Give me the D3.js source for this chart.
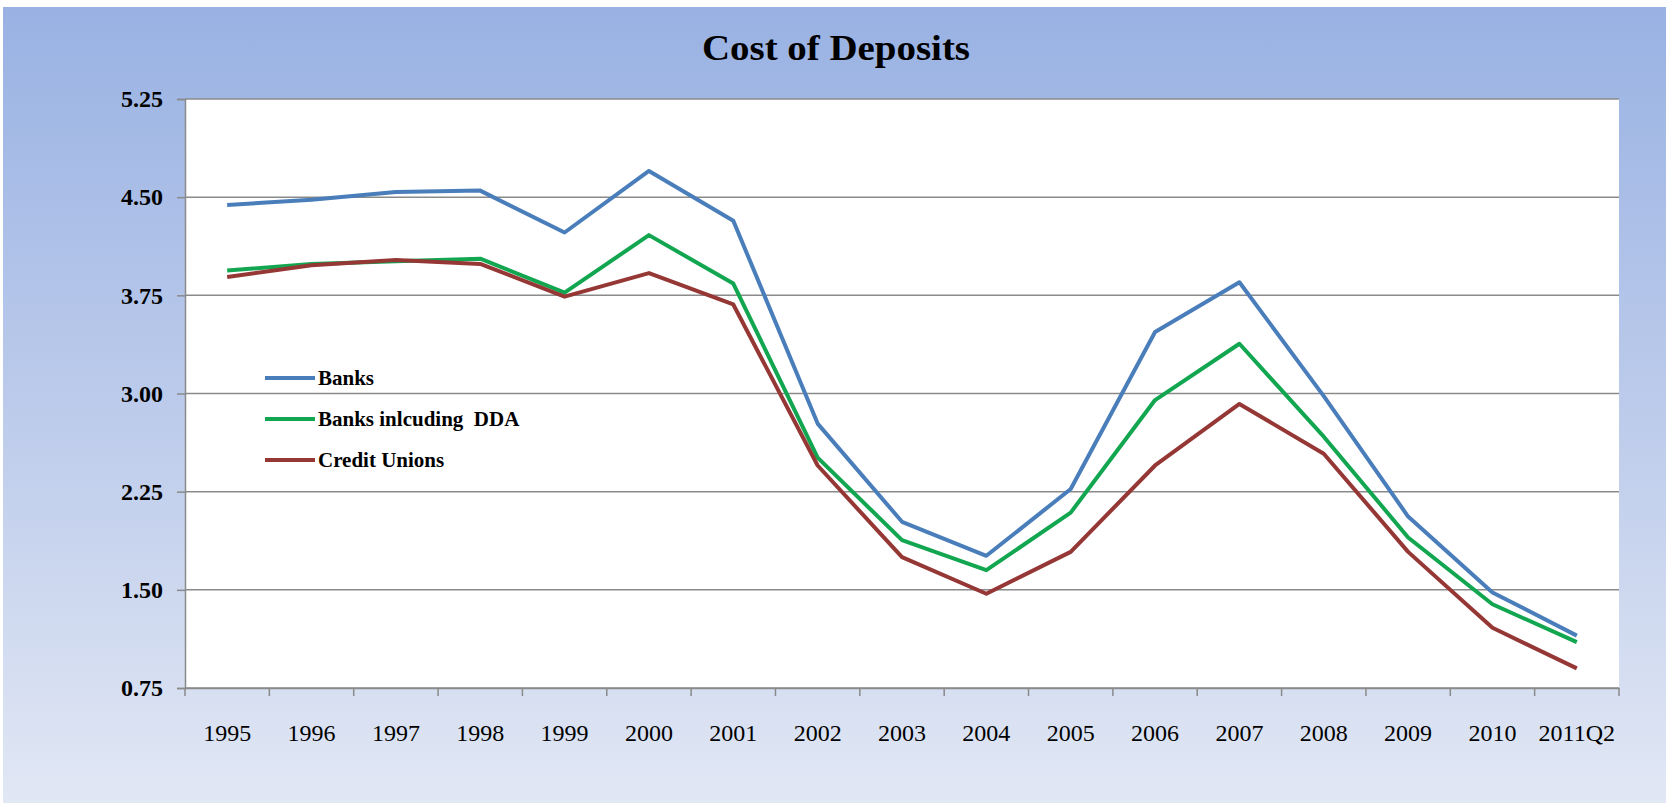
<!DOCTYPE html>
<html>
<head>
<meta charset="utf-8">
<title>Cost of Deposits</title>
<script src="https://cdn.jsdelivr.net/npm/d3@7"></script>
<style>
  html, body { margin: 0; padding: 0; background: #ffffff; }
  #chart { width: 1668px; height: 805px; }
</style>
</head>
<body>
<div id="chart"></div>
<script>
// chart data
const years = ["1995", "1996", "1997", "1998", "1999", "2000", "2001", "2002", "2003",
               "2004", "2005", "2006", "2007", "2008", "2009", "2010", "2011Q2"];
const banks = [4.44, 4.48, 4.54, 4.55, 4.23, 4.70, 4.32, 2.77, 2.02, 1.76, 2.27, 3.47, 3.85, 2.98, 2.06, 1.48, 1.15];
const banksDDA = [3.94, 3.99, 4.01, 4.03, 3.77, 4.21, 3.84, 2.51, 1.88, 1.65, 2.09, 2.95, 3.38, 2.67, 1.90, 1.39, 1.10];
const creditUnions = [3.89, 3.98, 4.02, 3.99, 3.74, 3.92, 3.68, 2.45, 1.75, 1.47, 1.79, 2.45, 2.92, 2.54, 1.79, 1.21, 0.90];
const yTicks = [0.75, 1.50, 2.25, 3.00, 3.75, 4.50, 5.25];
const seriesNames = ["Banks", "Banks inlcuding  DDA", "Credit Unions"];
const seriesColors = ["#4a7ebb", "#12a650", "#953735"];

const width = 1668;
const height = 805;
const plot = { left: 185, right: 1619, top: 99, bottom: 688 };
const serif = "'Liberation Serif', 'Times New Roman', serif";

const svg = d3.select("#chart")
    .append("svg")
    .attr("width", width)
    .attr("height", height);

// background gradient (light blue slide)
const defs = svg.append("defs");
const bg = defs.append("linearGradient")
    .attr("id", "bg-gradient")
    .attr("x1", "0%").attr("y1", "0%")
    .attr("x2", "0%").attr("y2", "100%");
bg.append("stop").attr("offset", "0%").attr("stop-color", "#99b2e3");
bg.append("stop").attr("offset", "50%").attr("stop-color", "#bccbeb");
bg.append("stop").attr("offset", "100%").attr("stop-color", "#e1e7f4");

svg.append("rect")
    .attr("x", 3)
    .attr("y", 7)
    .attr("width", 1663)
    .attr("height", 796)
    .attr("fill", "url(#bg-gradient)");

// plot area
svg.append("rect")
    .attr("x", plot.left)
    .attr("y", plot.top)
    .attr("width", plot.right - plot.left)
    .attr("height", plot.bottom - plot.top)
    .attr("fill", "#ffffff");

// title
svg.append("text")
    .attr("x", 836)
    .attr("y", 60)
    .attr("text-anchor", "middle")
    .attr("font-family", serif)
    .attr("font-weight", "bold")
    .attr("font-size", 36)
    .attr("textLength", 268)
    .attr("lengthAdjust", "spacingAndGlyphs")
    .attr("fill", "#000")
    .text("Cost of Deposits");

// scales
const x = d3.scaleBand()
    .domain(years)
    .range([plot.left, plot.right]);

const y = d3.scaleLinear()
    .domain([0.75, 5.25])
    .range([plot.bottom, plot.top]);

// gridlines
svg.append("g")
    .selectAll("line")
    .data(yTicks)
    .enter().append("line")
    .attr("x1", plot.left)
    .attr("x2", plot.right)
    .attr("y1", d => y(d))
    .attr("y2", d => y(d))
    .attr("stroke", "#8a8a8a")
    .attr("stroke-width", 1.5);

// y axis
const yAxis = svg.append("g")
    .attr("transform", `translate(${plot.left},0)`)
    .call(d3.axisLeft(y).tickValues(yTicks).tickFormat(d3.format(".2f")).tickSize(8).tickPadding(14));
yAxis.select(".domain").attr("stroke", "#8a8a8a").attr("stroke-width", 1.5);
yAxis.selectAll(".tick line").attr("stroke", "#8a8a8a").attr("stroke-width", 1.5);
yAxis.selectAll("text")
    .attr("font-family", serif)
    .attr("font-weight", "bold")
    .attr("font-size", 24)
    .attr("fill", "#000");

// x axis: labels centred, ticks on category boundaries
const xAxis = svg.append("g")
    .attr("transform", `translate(0,${plot.bottom})`)
    .call(d3.axisBottom(x).tickSize(0).tickPadding(36));
xAxis.select(".domain").attr("stroke", "#8a8a8a").attr("stroke-width", 1.5);
xAxis.selectAll("text")
    .attr("font-family", serif)
    .attr("font-size", 24)
    .attr("fill", "#000");

const boundaries = years.map(d => x(d)).concat([x(years[years.length - 1]) + x.bandwidth()]);
xAxis.selectAll(".boundary")
    .data(boundaries)
    .enter().append("line")
    .attr("class", "boundary")
    .attr("x1", d => d)
    .attr("x2", d => d)
    .attr("y1", 0)
    .attr("y2", 8)
    .attr("stroke", "#8a8a8a")
    .attr("stroke-width", 1.5);

// lines
const allSeries = [banks, banksDDA, creditUnions];
const line = d3.line()
    .x((d, i) => x(years[i]) + x.bandwidth() / 2)
    .y(d => y(d));

svg.append("g")
    .selectAll("path")
    .data(allSeries)
    .enter().append("path")
    .attr("d", d => line(d))
    .attr("fill", "none")
    .attr("stroke", (d, i) => seriesColors[i])
    .attr("stroke-width", 4)
    .attr("stroke-linejoin", "round");

// legend
const legend = svg.append("g")
    .selectAll("g")
    .data(seriesNames)
    .enter().append("g")
    .attr("transform", (d, i) => `translate(265,${378 + i * 41})`);

legend.append("line")
    .attr("x1", 0)
    .attr("x2", 50)
    .attr("stroke", (d, i) => seriesColors[i])
    .attr("stroke-width", 4);

legend.append("text")
    .attr("x", 53)
    .attr("y", 7)
    .attr("font-family", serif)
    .attr("font-weight", "bold")
    .attr("font-size", 21)
    .attr("fill", "#000")
    .style("white-space", "pre")
    .text(d => d);
</script>
</body>
</html>
